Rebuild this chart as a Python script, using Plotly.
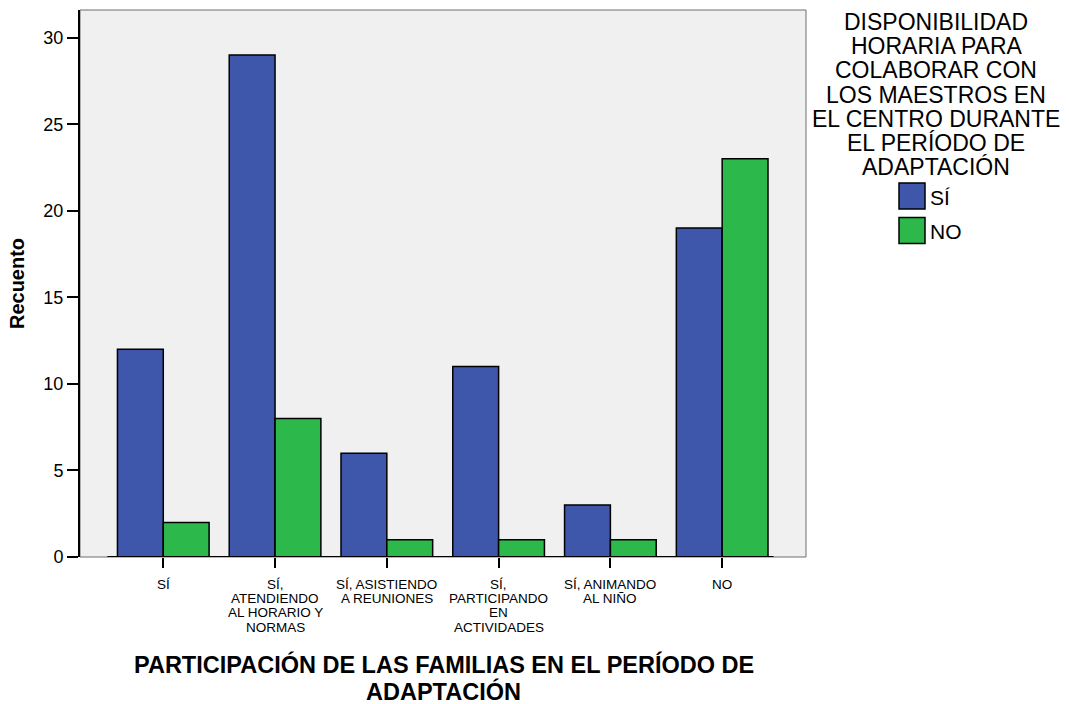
import plotly.graph_objects as go

categories = ["SÍ", "SÍ,<br>ATENDIENDO<br>AL HORARIO Y<br>NORMAS", "SÍ, ASISTIENDO<br>A REUNIONES",
              "SÍ,<br>PARTICIPANDO<br>EN<br>ACTIVIDADES", "SÍ, ANIMANDO<br>AL NIÑO", "NO"]
si_values = [12, 29, 6, 11, 3, 19]
no_values = [2, 8, 1, 1, 1, 23]
series_names = ["SÍ", "NO"]
y_ticks = [0, 5, 10, 15, 20, 25, 30]
legend_title = ["DISPONIBILIDAD", "HORARIA PARA", "COLABORAR CON", "LOS MAESTROS EN",
                "EL CENTRO DURANTE", "EL PERÍODO DE", "ADAPTACIÓN"]
x_title = ["PARTICIPACIÓN DE LAS FAMILIAS EN EL PERÍODO DE", "ADAPTACIÓN"]

BLUE = "#3E57AB"
GREEN = "#2DB84B"
FONT = "Liberation Sans, Arial, sans-serif"

# plot area in pixels
PL, PR, PT, PB = 80, 806, 10, 557
PW, PH = PR - PL, PB - PT


def px_x(px):
    return (px - PL) / PW


def px_y(py):
    return 1 - (py - PT) / PH


xs = list(range(len(categories)))
fig = go.Figure()
fig.add_bar(x=xs, y=si_values, name=series_names[0],
            marker=dict(color=BLUE, line=dict(color="black", width=1.5)), showlegend=False)
fig.add_bar(x=xs, y=no_values, name=series_names[1],
            marker=dict(color=GREEN, line=dict(color="black", width=1.5)), showlegend=False)

fig.update_layout(
    width=1069, height=704,
    margin=dict(l=PL, r=1069 - PR, t=PT, b=704 - PB),
    paper_bgcolor="white", plot_bgcolor="#F0F0F0",
    barmode="group", bargap=0.18, bargroupgap=0,
    font=dict(family=FONT, color="black"),
)
fig.update_xaxes(
    tickmode="array", tickvals=xs, ticktext=["" for _ in categories],
    range=[-0.745, 5.75], ticks="outside", ticklen=10, tickwidth=2, tickcolor="black",
    showgrid=False, zeroline=False, showline=False,
)
fig.update_yaxes(
    range=[0, 31.6], tickvals=y_ticks, ticks="outside", ticklen=11, tickwidth=2, tickcolor="black",
    tickfont=dict(size=18), showgrid=False, zeroline=False,
    showline=True, linecolor="black", linewidth=2,
    title=dict(text="<b>Recuento</b>", font=dict(size=20), standoff=13),
)

# category labels, one annotation per line, placed on the category axis
for xi, cat in zip(xs, categories):
    for li, line in enumerate(cat.split("<br>")):
        fig.add_annotation(text=line, xref="x", yref="paper", x=xi, y=px_y(584.5 + li * 14.2),
                           xanchor="center", yanchor="middle", showarrow=False, font=dict(size=13.5))

# frame
fig.add_shape(type="rect", xref="paper", yref="paper", x0=0, x1=1, y0=0, y1=1,
              line=dict(color="#6E6E6E", width=1), layer="below")
# baseline
fig.add_shape(type="line", xref="x", yref="y", x0=-0.5, x1=5.46, y0=0, y1=0,
              line=dict(color="black", width=2))

# x-axis title
for li, line in enumerate(x_title):
    fig.add_annotation(text="<b>" + line + "</b>", xref="paper", yref="paper",
                       x=px_x(444), y=px_y(664.5 + li * 26.5), xanchor="center", yanchor="middle",
                       showarrow=False, font=dict(size=23.5))

# legend
for li, line in enumerate(legend_title):
    fig.add_annotation(text=line, xref="paper", yref="paper", x=px_x(936), y=px_y(22 + li * 24.2),
                       xanchor="center", yanchor="middle", showarrow=False, font=dict(size=23))
legend_colors = [BLUE, GREEN]
for i, (name, col) in enumerate(zip(series_names, legend_colors)):
    top = 183 + i * 34.5
    fig.add_shape(type="rect", xref="paper", yref="paper",
                  x0=px_x(899), x1=px_x(925), y0=px_y(top + 26), y1=px_y(top),
                  fillcolor=col, line=dict(color="black", width=1.5))
    fig.add_annotation(text=name, xref="paper", yref="paper", x=px_x(928),
                       y=px_y(top + 14), xanchor="left", yanchor="middle",
                       showarrow=False, font=dict(size=21))

fig.write_html("out.html", config={"displayModeBar": False},
               post_script="document.body.style.margin='0';")
